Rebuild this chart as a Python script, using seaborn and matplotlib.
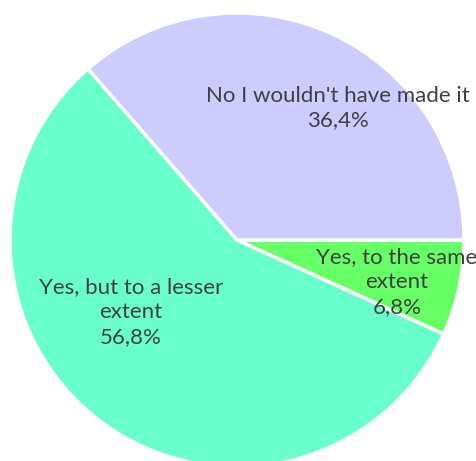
import matplotlib
matplotlib.use("Agg")
import matplotlib.pyplot as plt
import seaborn as sns

sns.set_theme(style="white")
plt.rcParams['font.family'] = ['Lato', 'DejaVu Sans']

categories = ["Yes, to the same\nextent", "Yes, but to a lesser\nextent", "No I wouldn't have made it"]
values = [6.8, 56.8, 36.4]
pct_labels = ["6,8%", "56,8%", "36,4%"]
colors = ["#66FF66", "#69FFCB", "#CCCCFF"]

W, H = 476, 461
fig = plt.figure(figsize=(W / 100, H / 100), dpi=100)
ax = fig.add_axes([0, 0, 1, 1])

cx, cy, R = 237, H - 240, 227
ax.pie(values, colors=colors, startangle=0, counterclock=False,
       center=(cx, cy), radius=R, explode=[0.045, 0, 0],
       wedgeprops=dict(edgecolor="white", linewidth=2.5), frame=True)
ax.set_xlim(0, W)
ax.set_ylim(0, H)
ax.axis("off")

label_xy = [(397, H - 282), (131, H - 312), (338, H - 108)]
for cat, pct, (x, y) in zip(categories, pct_labels, label_xy):
    ax.text(x, y, f"{cat}\n{pct}", ha="center", va="center", fontsize=16,
            color="#404040", linespacing=1.3)

fig.savefig("out.png", dpi=100)
